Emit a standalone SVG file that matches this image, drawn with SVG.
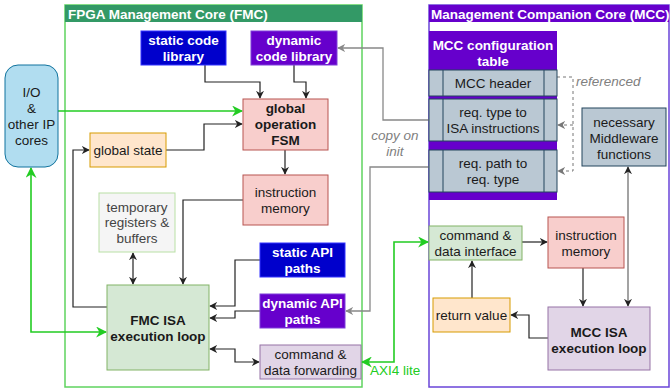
<svg xmlns="http://www.w3.org/2000/svg" width="670" height="391" viewBox="0 0 670 391">
  <style>
    text { font-family: "Liberation Sans", Arial, sans-serif; font-size: 13.5px; text-anchor: middle; fill: #1a1a1a; }
    .b { font-weight: bold; }
    .w { fill: #ffffff; font-weight: bold; }
    .title { fill: #ffffff; font-weight: bold; text-anchor: start; }
    .note { fill: #808080; font-style: italic; }
    .blk { fill: none; stroke: #222; stroke-width: 1.2; }
    .gry { fill: none; stroke: #888; stroke-width: 1.3; }
    .grn { fill: none; stroke: #22cc22; stroke-width: 1.6; }
    .dash { fill: none; stroke: #777; stroke-width: 1; stroke-dasharray: 3 3; }
    .red { fill: #f8cecc; stroke: #b85450; }
    .org { fill: #ffe6cc; stroke: #d79b00; }
    .gn { fill: #d5e8d4; stroke: #82b366; }
    .pu { fill: #e1d5e7; stroke: #9673a6; }
    .bl { fill: #0000cc; stroke: #3333ff; }
    .vi { fill: #6600cc; stroke: #7f3fd9; }
    .sl { fill: #bac8d3; stroke: #23445d; }
  </style>
  <defs>
    <marker id="ak" viewBox="0 0 10 10" refX="9" refY="5" markerWidth="8" markerHeight="8" markerUnits="userSpaceOnUse" orient="auto-start-reverse">
      <path d="M0,0 L10,5 L0,10 L3,5 Z" fill="#222"/>
    </marker>
    <marker id="ag" viewBox="0 0 10 10" refX="9" refY="5" markerWidth="8" markerHeight="8" markerUnits="userSpaceOnUse" orient="auto-start-reverse">
      <path d="M0,0 L10,5 L0,10 L3,5 Z" fill="#888"/>
    </marker>
    <marker id="ad" viewBox="0 0 10 10" refX="9" refY="5" markerWidth="8" markerHeight="8" markerUnits="userSpaceOnUse" orient="auto-start-reverse">
      <path d="M0,0 L10,5 L0,10 L3,5 Z" fill="#777"/>
    </marker>
    <marker id="agr" viewBox="0 0 10 10" refX="9" refY="5" markerWidth="11" markerHeight="11" markerUnits="userSpaceOnUse" orient="auto-start-reverse">
      <path d="M0,0 L10,5 L0,10 L3,5 Z" fill="#22cc22"/>
    </marker>
  </defs>

  <!-- containers -->
  <g id="fmc">
    <rect x="65" y="5" width="297" height="382" fill="#ffffff" stroke="#5fd35f" stroke-width="1.5"/>
    <rect x="65" y="5" width="297" height="17" fill="#339966"/>
    <text class="title" x="68" y="19">FPGA Management Core (FMC)</text>
  </g>
  <g id="mcc">
    <rect x="429" y="5" width="240" height="382" fill="#ffffff" stroke="#6a45d8" stroke-width="1.5"/>
    <rect x="429" y="5" width="240" height="17" fill="#6600cc"/>
    <text class="title" x="431" y="19">Management Companion Core (MCC)</text>
  </g>

  <!-- connectors -->
  <g id="connectors">
    <path class="blk" d="M205,65 V82 H260 V98" marker-end="url(#ak)"/>
    <path class="blk" d="M294,65 V82 H306 V98" marker-end="url(#ak)"/>
    <path class="blk" d="M166,150 H204 V124 H242" marker-end="url(#ak)"/>
    <path class="blk" d="M285,150 V174" marker-end="url(#ak)"/>
    <path class="blk" d="M107,307 H73 V150 H89" marker-end="url(#ak)"/>
    <path class="blk" d="M243,200 H183 V284" marker-end="url(#ak)"/>
    <path class="blk" d="M133,253 V284" marker-start="url(#ak)" marker-end="url(#ak)"/>
    <path class="blk" d="M260,260 H235 V306 H210" marker-end="url(#ak)"/>
    <path class="blk" d="M260,311 H235 V318 H210" marker-end="url(#ak)"/>
    <path class="blk" d="M210,349 H235 V362 H259" marker-start="url(#ak)" marker-end="url(#ak)"/>
    <path class="grn" d="M58,111 H242" marker-end="url(#agr)"/>
    <path class="grn" d="M31,168 V332 H106" marker-start="url(#agr)" marker-end="url(#agr)"/>
    <path class="grn" d="M362,362 H394 V242 H428" marker-start="url(#agr)" marker-end="url(#agr)"/>
    <path class="gry" d="M429,120 H383 V48 H338" marker-end="url(#ag)"/>
    <path class="gry" d="M429,167 H370 V311 H346" marker-end="url(#ag)"/>
    <path class="dash" d="M557,77 H573 V171 H558" marker-end="url(#ad)"/>
    <path class="dash" d="M573,125 H558" marker-end="url(#ad)"/>
    <path class="blk" d="M522,242 H547" marker-end="url(#ak)"/>
    <path class="blk" d="M583,268 V306" marker-end="url(#ak)"/>
    <path class="blk" style="stroke:#666" d="M628,167 V306" marker-start="url(#ak)" marker-end="url(#ak)"/>
    <path class="blk" d="M548,338 H529 V315 H511" marker-end="url(#ak)"/>
    <path class="blk" d="M472,298 V261" marker-end="url(#ak)"/>
    <text x="395" y="140" class="note">copy on</text>
    <text x="395" y="156" class="note">init</text>
    <text x="576" y="86" class="note" style="text-anchor:start">referenced</text>
    <text x="370" y="375" style="text-anchor:start;fill:#22cc22">AXI4 lite</text>
  </g>

  <!-- FMC nodes -->
  <g id="io">
    <rect x="5" y="65" width="53" height="102" rx="13" fill="#b1ddf0" stroke="#10739e"/>
    <text x="31.5" y="97">I/O</text>
    <text x="31.5" y="113">&amp;</text>
    <text x="31.5" y="129">other IP</text>
    <text x="31.5" y="145">cores</text>
  </g>
  <g id="static-code-library">
    <rect class="bl" x="141" y="31" width="85" height="34"/>
    <text class="w" x="183.5" y="45">static code</text>
    <text class="w" x="183.5" y="61">library</text>
  </g>
  <g id="dynamic-code-library">
    <rect class="vi" x="251" y="31" width="86" height="34"/>
    <text class="w" x="294" y="45">dynamic</text>
    <text class="w" x="294" y="61">code library</text>
  </g>
  <g id="global-operation-fsm">
    <rect class="red" x="243" y="99" width="85" height="51"/>
    <text class="b" x="285.5" y="113">global</text>
    <text class="b" x="285.5" y="129">operation</text>
    <text class="b" x="285.5" y="145">FSM</text>
  </g>
  <g id="global-state">
    <rect class="org" x="90" y="133" width="76" height="34"/>
    <text x="128" y="155">global state</text>
  </g>
  <g id="fmc-instruction-memory">
    <rect class="red" x="243" y="175" width="85" height="50"/>
    <text x="285.5" y="197">instruction</text>
    <text x="285.5" y="213">memory</text>
  </g>
  <g id="temporary-registers">
    <rect x="99" y="193" width="76" height="59" fill="#f5f5f5" stroke="#b9e0a5"/>
    <text x="137" y="212" style="fill:#444">temporary</text>
    <text x="137" y="227" style="fill:#444">registers &amp;</text>
    <text x="137" y="243" style="fill:#444">buffers</text>
  </g>
  <g id="static-api-paths">
    <rect class="bl" x="260" y="243" width="85" height="34"/>
    <text class="w" x="302.5" y="257">static API</text>
    <text class="w" x="302.5" y="273">paths</text>
  </g>
  <g id="dynamic-api-paths">
    <rect class="vi" x="260" y="294" width="85" height="34"/>
    <text class="w" x="302.5" y="308">dynamic API</text>
    <text class="w" x="302.5" y="324">paths</text>
  </g>
  <g id="command-data-forwarding">
    <rect class="pu" x="260" y="345" width="101" height="34"/>
    <text x="310.5" y="359">command &amp;</text>
    <text x="310.5" y="375">data forwarding</text>
  </g>
  <g id="fmc-isa-loop">
    <rect class="gn" x="107" y="285" width="102" height="85"/>
    <text class="b" x="158" y="325">FMC ISA</text>
    <text class="b" x="158" y="341">execution loop</text>
  </g>

  <!-- MCC nodes -->
  <g id="mcc-configuration-table">
    <rect x="429" y="31" width="128" height="169" fill="#6600cc"/>
    <text class="w" x="493" y="50">MCC configuration</text>
    <text class="w" x="493" y="66">table</text>
    <rect class="sl" x="429" y="70" width="128" height="26"/>
    <path d="M443,70 V96 M544,70 V96" stroke="#23445d" fill="none"/>
    <text x="493" y="88">MCC header</text>
    <rect class="sl" x="429" y="99" width="128" height="42"/>
    <path d="M443,99 V141 M544,99 V141" stroke="#23445d" fill="none"/>
    <text x="493" y="117">req. type to</text>
    <text x="493" y="133">ISA instructions</text>
    <rect class="sl" x="429" y="150" width="128" height="42"/>
    <path d="M443,150 V192 M544,150 V192" stroke="#23445d" fill="none"/>
    <text x="493" y="168">req. path to</text>
    <text x="493" y="184">req. type</text>
  </g>
  <g id="middleware-functions">
    <rect class="sl" x="582" y="108" width="84" height="58"/>
    <text x="624" y="127">necessary</text>
    <text x="624" y="143">Middleware</text>
    <text x="624" y="159">functions</text>
  </g>
  <g id="command-data-interface">
    <rect class="gn" x="429" y="226" width="93" height="34"/>
    <text x="475.5" y="240">command &amp;</text>
    <text x="475.5" y="256">data interface</text>
  </g>
  <g id="mcc-instruction-memory">
    <rect class="red" x="548" y="217" width="76" height="51"/>
    <text x="586" y="240">instruction</text>
    <text x="586" y="256">memory</text>
  </g>
  <g id="return-value">
    <rect class="org" x="433" y="298" width="77" height="34"/>
    <text x="471.5" y="320">return value</text>
  </g>
  <g id="mcc-isa-loop">
    <rect class="pu" x="548" y="307" width="102" height="63"/>
    <text class="b" x="599" y="337">MCC ISA</text>
    <text class="b" x="599" y="353">execution loop</text>
  </g>
</svg>
